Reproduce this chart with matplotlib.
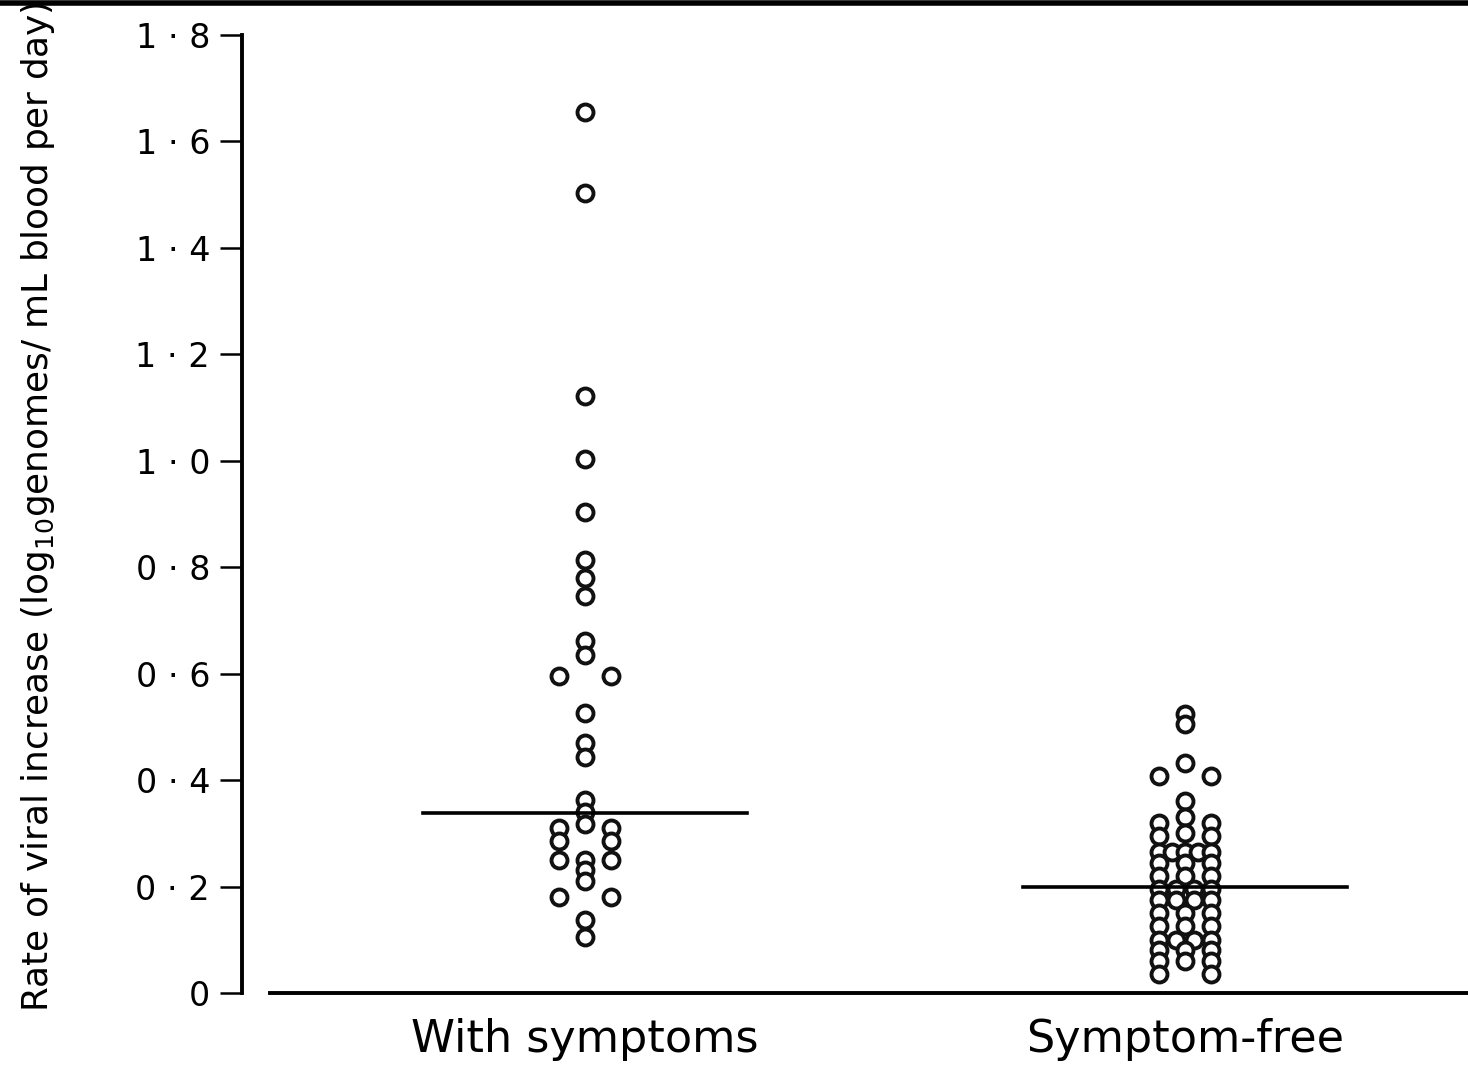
import matplotlib
matplotlib.use("Agg")
import matplotlib.pyplot as plt
from matplotlib.lines import Line2D
import numpy as np
from collections import Counter

# ---- data ----
groups = ["With symptoms", "Symptom-free"]
with_symptoms = [1.655, 1.503, 1.122, 1.003, 0.904, 0.814, 0.78, 0.745,
                 0.661, 0.635, 0.596, 0.596, 0.526, 0.47, 0.443, 0.362,
                 0.34, 0.318, 0.31, 0.31, 0.285, 0.285, 0.25, 0.25, 0.25,
                 0.232, 0.21, 0.18, 0.18, 0.137, 0.105]
symptom_free = [0.525, 0.505, 0.432, 0.408, 0.408, 0.36, 0.33, 0.32, 0.32,
                0.30, 0.295, 0.295, 0.265, 0.265, 0.265, 0.265, 0.265,
                0.245, 0.245, 0.245, 0.22, 0.22, 0.22, 0.195, 0.195, 0.195,
                0.195, 0.175, 0.175, 0.175, 0.175, 0.15, 0.15, 0.15,
                0.125, 0.125, 0.125, 0.10, 0.10, 0.10, 0.10, 0.08, 0.08,
                0.08, 0.06, 0.06, 0.06, 0.035, 0.035]
medians = [0.338, 0.20]
yticks = [0, 0.2, 0.4, 0.6, 0.8, 1.0, 1.2, 1.4, 1.6, 1.8]
ytick_labels = ["0", "0 · 2", "0 · 4", "0 · 6", "0 · 8", "1 · 0", "1 · 2",
                "1 · 4", "1 · 6", "1 · 8"]
ylabel = "Rate of viral increase (log$_{10}$genomes/ mL blood per day)"

W = 0.044  # half-width of the scatter spread (data units)


def spread(values):
    cnt = Counter(values)
    seen = Counter()
    offs = []
    for v in values:
        n = cnt[v]
        k = seen[v]
        seen[v] += 1
        if n == 1:
            offs.append(0.0)
        else:
            offs.append(-W + 2 * W * k / (n - 1))
    return np.array(offs)


fig = plt.figure(figsize=(14.68, 10.65), dpi=100)
ax = fig.add_axes([242 / 1468, 1 - 993 / 1065, 1 - 242 / 1468, (993 - 35) / 1065])

for i, vals in enumerate([with_symptoms, symptom_free]):
    xpos = i + 1 + spread(vals)
    ax.plot(xpos, vals, linestyle="none", marker="o", markersize=11.5,
            markerfacecolor="white", markeredgecolor="#111111",
            markeredgewidth=2.8, zorder=3, clip_on=False)
    ax.plot([i + 1 - 0.27, i + 1 + 0.27], [medians[i], medians[i]],
            color="black", lw=2.6, zorder=4)

ax.set_xlim(1 - 343 / 600, 2 + 283 / 600)
ax.set_ylim(0, 1.8)
ax.set_yticks(yticks)
ax.set_yticklabels(ytick_labels, fontsize=24, family="DejaVu Sans")
ax.set_xticks([1, 2])
ax.set_xticklabels(groups, fontsize=32, family="DejaVu Sans")
ax.tick_params(axis="y", length=16, width=1.8, pad=7, colors="black")
ax.tick_params(axis="x", length=0, pad=18)

for s in ["top", "right"]:
    ax.spines[s].set_visible(False)
ax.spines["left"].set_linewidth(2.8)
ax.spines["bottom"].set_linewidth(2.8)
ax.spines["bottom"].set_bounds(1 - 315 / 600, 2 + 283 / 600)

fig.text(0.026, 0.524, ylabel, rotation=90, ha="center", va="center",
         fontsize=25.8, family="DejaVu Sans")

fig.add_artist(Line2D([0, 1], [1 - 3 / 1065, 1 - 3 / 1065],
                      transform=fig.transFigure, color="black", lw=4))

fig.savefig("out.png", dpi=100)
